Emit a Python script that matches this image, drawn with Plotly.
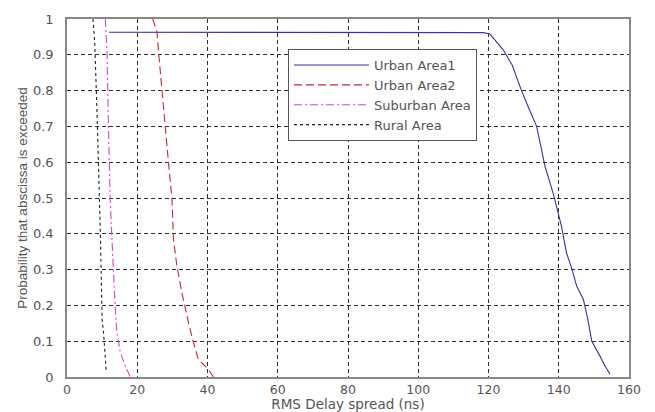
import plotly.graph_objects as go

# Urban Area1
u1_x = [12.0, 116.4, 118.5, 120.4, 122.0, 124.2, 126.8, 129.4, 131.5, 133.7, 135.0, 136.1, 138.5, 140.8, 142.2, 143.8, 145.1, 147.0, 148.3, 149.4, 151.7, 153.2, 154.6]
u1_y = [0.963, 0.963, 0.962, 0.958, 0.94, 0.914, 0.87, 0.80, 0.75, 0.70, 0.64, 0.588, 0.51, 0.42, 0.347, 0.30, 0.254, 0.217, 0.16, 0.10, 0.059, 0.03, 0.008]

# Urban Area2
u2_x = [24.4, 25.6, 26.1, 27.0, 28.0, 28.9, 29.9, 30.3, 31.3, 32.7, 34.6, 36.0, 37.4, 40.3, 41.7]
u2_y = [1.0, 0.965, 0.904, 0.80, 0.70, 0.598, 0.495, 0.384, 0.31, 0.235, 0.152, 0.096, 0.049, 0.021, 0.0]

# Suburban Area
su_x = [10.9, 11.4, 11.8, 12.3, 12.8, 13.3, 13.7, 14.2, 15.2, 16.6, 18.0]
su_y = [1.0, 0.904, 0.70, 0.495, 0.384, 0.272, 0.198, 0.124, 0.068, 0.031, 0.0]

# Rural Area
ru_x = [7.4, 7.9, 8.5, 9.0, 9.5, 10.0, 10.4, 11.2]
ru_y = [1.0, 0.932, 0.755, 0.588, 0.40, 0.16, 0.124, 0.012]

x_ticks = [0, 20, 40, 60, 80, 100, 120, 140, 160]
y_ticks = [0, 0.1, 0.2, 0.3, 0.4, 0.5, 0.6, 0.7, 0.8, 0.9, 1]
y_labels = ["0", "0.1", "0.2", "0.3", "0.4", "0.5", "0.6", "0.7", "0.8", "0.9", "1"]

TXT = "#555555"

fig = go.Figure()
fig.add_trace(go.Scatter(x=u1_x, y=u1_y, mode="lines", name="Urban Area1",
                         line=dict(color="#3535a5", width=1.1)))
fig.add_trace(go.Scatter(x=u2_x, y=u2_y, mode="lines", name="Urban Area2",
                         line=dict(color="#c82838", width=1.1, dash="8px,4px")))
fig.add_trace(go.Scatter(x=su_x, y=su_y, mode="lines", name="Suburban Area",
                         line=dict(color="#e040d8", width=1.1, dash="8px,3px,2px,3px")))
fig.add_trace(go.Scatter(x=ru_x, y=ru_y, mode="lines", name="Rural Area",
                         line=dict(color="#202020", width=1.1, dash="3px,3px")))

axis_common = dict(
    showgrid=True, gridcolor="#303030", griddash="4px,3px", gridwidth=1,
    showline=True, linecolor="#888888", linewidth=1.5, mirror=True,
    zeroline=False, ticks="", automargin=False,
)

fig.update_xaxes(range=[0, 160], tickvals=x_ticks, ticklabelstandoff=0,
                 tickfont=dict(family="DejaVu Sans", size=12.5, color=TXT),
                 title=dict(text="RMS Delay spread (ns)", standoff=0,
                            font=dict(family="DejaVu Sans", size=13.5, color=TXT)), **axis_common)
fig.update_yaxes(range=[0, 1], tickvals=y_ticks, ticktext=y_labels, ticklabelstandoff=9,
                 tickfont=dict(family="DejaVu Sans", size=13, color=TXT),
                 title=dict(text="Probability that abscissa is exceeded", standoff=2,
                            font=dict(family="Arial, Liberation Sans", size=13.5, color=TXT)), **axis_common)

# page body has an 8px default margin: size the figure so the plot area lands where the reference has it
fig.update_layout(
    width=647, height=404,
    margin=dict(l=59, r=26, t=11, b=35),
    paper_bgcolor="white", plot_bgcolor="white",
    showlegend=True,
    legend=dict(x=(288 - 67) / 562, y=(378 - 50) / 358, xanchor="left", yanchor="top",
                bgcolor="white", bordercolor="#555555", borderwidth=1,
                font=dict(family="DejaVu Sans", size=13, color=TXT),
                tracegroupgap=0, itemwidth=75),
)

fig.write_html("out.html")
